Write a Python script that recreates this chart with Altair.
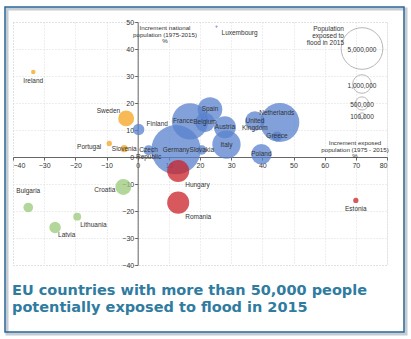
import math
import altair as alt
import pandas as pd

# ---------------- data ----------------
countries = ["Germany", "Netherlands", "France", "Italy", "Spain", "Austria", "Hungary", "Romania",
             "Poland", "Belgium", "United Kingdom", "Sweden", "Croatia", "Finland", "Latvia",
             "Czech Republic", "Greece", "Bulgaria", "Slovakia", "Lithuania", "Slovenia",
             "Portugal", "Estonia", "Ireland", "Luxembourg"]
exposed_increment = [12.3, 45.6, 16.8, 28.5, 23.2, 28.0, 13.0, 13.0,
                     39.7, 21.6, 37.6, -3.7, -4.6, 0.3, -26.5,
                     3.5, 44.7, -35.1, 20.6, -19.4, -4.3,
                     -9.1, 70.0, -33.5, 25.3]
national_increment = [2.7, 12.8, 13.2, 4.6, 17.6, 11.0, -5.2, -16.9,
                      1.0, 12.8, 13.3, 14.3, -11.1, 10.2, -26.1,
                      2.5, 7.6, -18.7, 2.6, -22.1, 3.1,
                      5.0, -16.1, 31.5, 48.3]
exposed_2015 = [7000000, 4400000, 3800000, 2300000, 1750000, 1400000, 1400000, 1400000,
                1200000, 1100000, 1100000, 730000, 730000, 380000, 380000,
                300000, 300000, 270000, 250000, 180000, 145000,
                80000, 80000, 57000, 14000]

legend_values = [5000000, 1000000, 500000, 100000]
legend_labels = ["5,000,000", "1,000,000", "500,000", "100,000"]

title_text = "EU countries with more than 50,000 people\npotentially exposed to flood in 2015"
x_title = "Increment exposed\npopulation (1975 - 2015)\n%"
y_title = "Increment national\npopulation (1975-2015)\n%"
size_title = "Population\nexposed to\nflood in 2015"

# ---------------- table ----------------
df = pd.DataFrame({"country": countries, "dx_pct": exposed_increment,
                   "dy_pct": national_increment, "exposed": exposed_2015})
df["label"] = df["country"].str.replace(" ", "\n")


def quadrant(r):
    if r.dx_pct < 0 and r.dy_pct >= 0:
        return "A"
    if r.dx_pct >= 0 and r.dy_pct >= 0:
        return "B"
    if r.dx_pct < 0:
        return "C"
    return "D"


df["quadrant"] = df.apply(quadrant, axis=1)

# ---------------- layout ----------------
W, H = 374, 243
PAD_L, PAD_T = 13, 22
FONT = "Liberation Sans"
TXT = "#333333"

xdom = [-40, 80]
ydom = [-40, 50]
# axes cross at (0, 0): shift them inward by the pixel distance of zero from the edge
yaxis_off = -W * (0 - xdom[0]) / (xdom[1] - xdom[0])   # left axis moves right
xaxis_off = -H * (0 - ydom[0]) / (ydom[1] - ydom[0])   # bottom axis moves up

MAX_AREA = math.pi * 23.5 ** 2
size_scale = alt.Scale(type="linear", domain=[0, 5000000], range=[0, MAX_AREA])

axis_common = dict(title=None, grid=True, gridColor="#dcdcdc", gridDash=[1, 2], gridWidth=1,
                   domainColor="#666666", tickColor="#666666", tickSize=3,
                   labelFont=FONT, labelFontSize=7, labelColor=TXT, labelPadding=1)

X = alt.X("dx_pct:Q", scale=alt.Scale(domain=xdom, nice=False, zero=False),
          axis=alt.Axis(values=list(range(-40, 81, 10)), offset=xaxis_off, **axis_common))
Y = alt.Y("dy_pct:Q", scale=alt.Scale(domain=ydom, nice=False, zero=False),
          axis=alt.Axis(values=list(range(-40, 51, 10)), offset=yaxis_off, **axis_common))

base = alt.Chart(df)

one = alt.Data(values=[{"k": 1}])

shadow = alt.Chart(one).mark_rect(fillOpacity=0, stroke="#c4ccd4", strokeWidth=3).encode(
    x=alt.value(-6), x2=alt.value(393), y=alt.value(-13), y2=alt.value(312))
frame = alt.Chart(one).mark_rect(fillOpacity=0, stroke="#2a6496", strokeWidth=1.5).encode(
    x=alt.value(-8), x2=alt.value(391), y=alt.value(-15), y2=alt.value(310))

bubbles = base.mark_circle(opacity=0.75).encode(
    x=X, y=Y,
    size=alt.Size("exposed:Q", scale=size_scale, legend=None),
    color=alt.Color("quadrant:N", legend=None,
                    scale=alt.Scale(domain=["A", "B", "C", "D"],
                                    range=["#f5a31d", "#5881cd", "#99c879", "#c92127"])),
    order=alt.Order("exposed:Q", sort="descending"),
)

# label placement groups: (align, dx, dy, names)
placements = [
    ("center", 0, 0, ["Czech Republic", "Germany", "Belgium", "Spain", "Austria", "Italy",
                      "Slovakia", "United Kingdom", "Greece", "Poland", "Slovenia"]),
    ("center", -7, 0, ["France"]),
    ("center", -3, -9, ["Netherlands"]),
    ("center", 0, 9, ["Ireland", "Estonia"]),
    ("center", 0, -16, ["Bulgaria"]),
    ("right", -8, 3, ["Portugal", "Croatia"]),
    ("right", -6, -7, ["Sweden"]),
    ("left", 8, -5, ["Finland"]),
    ("left", 5, 6, ["Luxembourg"]),
    ("left", 7, 14, ["Hungary", "Romania"]),
    ("left", 3, 8, ["Lithuania", "Latvia"]),
]
label_layers = []
for align, dx, dy, names in placements:
    label_layers.append(
        base.transform_filter(alt.FieldOneOfPredicate(field="country", oneOf=names))
        .mark_text(align=align, baseline="middle", dx=dx, dy=dy, font=FONT, fontSize=6.5,
                   color=TXT, lineBreak="\n", lineHeight=7)
        .encode(x=X, y=Y, text="label:N")
    )

# size legend (stacked circles, labels centred inside)
legend_layers = []
cx = 349
cy_prev_bottom = 3
for v, lab in zip(legend_values, legend_labels):
    r = math.sqrt(v / 5000000 * MAX_AREA / math.pi)
    cy = cy_prev_bottom + r
    cy_prev_bottom = cy + r + 1.5
    ldf = pd.DataFrame({"v": [v], "lab": [lab]})
    legend_layers.append(
        alt.Chart(ldf).mark_point(shape="circle", filled=False, stroke="#9a9a9a", strokeWidth=1)
        .encode(x=alt.value(cx), y=alt.value(cy), size=alt.Size("v:Q", scale=size_scale, legend=None)))
    legend_layers.append(
        alt.Chart(ldf).mark_text(font=FONT, fontSize=6.5, color=TXT, baseline="middle")
        .encode(x=alt.value(cx), y=alt.value(cy + 1.5), text="lab:N"))

note_df = pd.DataFrame({"t": [size_title, y_title, x_title, title_text]})
size_note = alt.Chart(note_df).transform_filter(alt.datum.t == size_title).mark_text(
    align="right", baseline="top", font=FONT, fontSize=6.5, color=TXT, lineBreak="\n", lineHeight=7
).encode(x=alt.value(331), y=alt.value(4), text="t:N")
y_note = alt.Chart(note_df).transform_filter(alt.datum.t == y_title).mark_text(
    align="center", baseline="top", font=FONT, fontSize=6.2, color=TXT, lineBreak="\n", lineHeight=6.5
).encode(x=alt.value(152), y=alt.value(3), text="t:N")
x_note = alt.Chart(note_df).transform_filter(alt.datum.t == x_title).mark_text(
    align="center", baseline="top", font=FONT, fontSize=6.2, color=TXT, lineBreak="\n", lineHeight=6.5
).encode(x=alt.value(342), y=alt.value(118), text="t:N")
main_title = alt.Chart(note_df).transform_filter(alt.datum.t == title_text).mark_text(
    align="left", baseline="top", font="DejaVu Sans", fontSize=14.5, fontWeight="bold",
    color="#2f7ca0", lineBreak="\n", lineHeight=17
).encode(x=alt.value(-1), y=alt.value(262), text="t:N")

chart = alt.layer(
    shadow, frame, bubbles, *label_layers, *legend_layers, size_note, y_note, x_note, main_title
).properties(
    width=W, height=H,
    autosize=alt.AutoSizeParams(type="none"),
    padding={"left": PAD_L, "top": PAD_T, "right": 411 - PAD_L - W, "bottom": 339 - PAD_T - H},
    background="white",
).configure_view(stroke="#d0d0d0", strokeDash=[1, 2])

chart.save("out.html", embed_options={"renderer": "svg", "actions": False})
